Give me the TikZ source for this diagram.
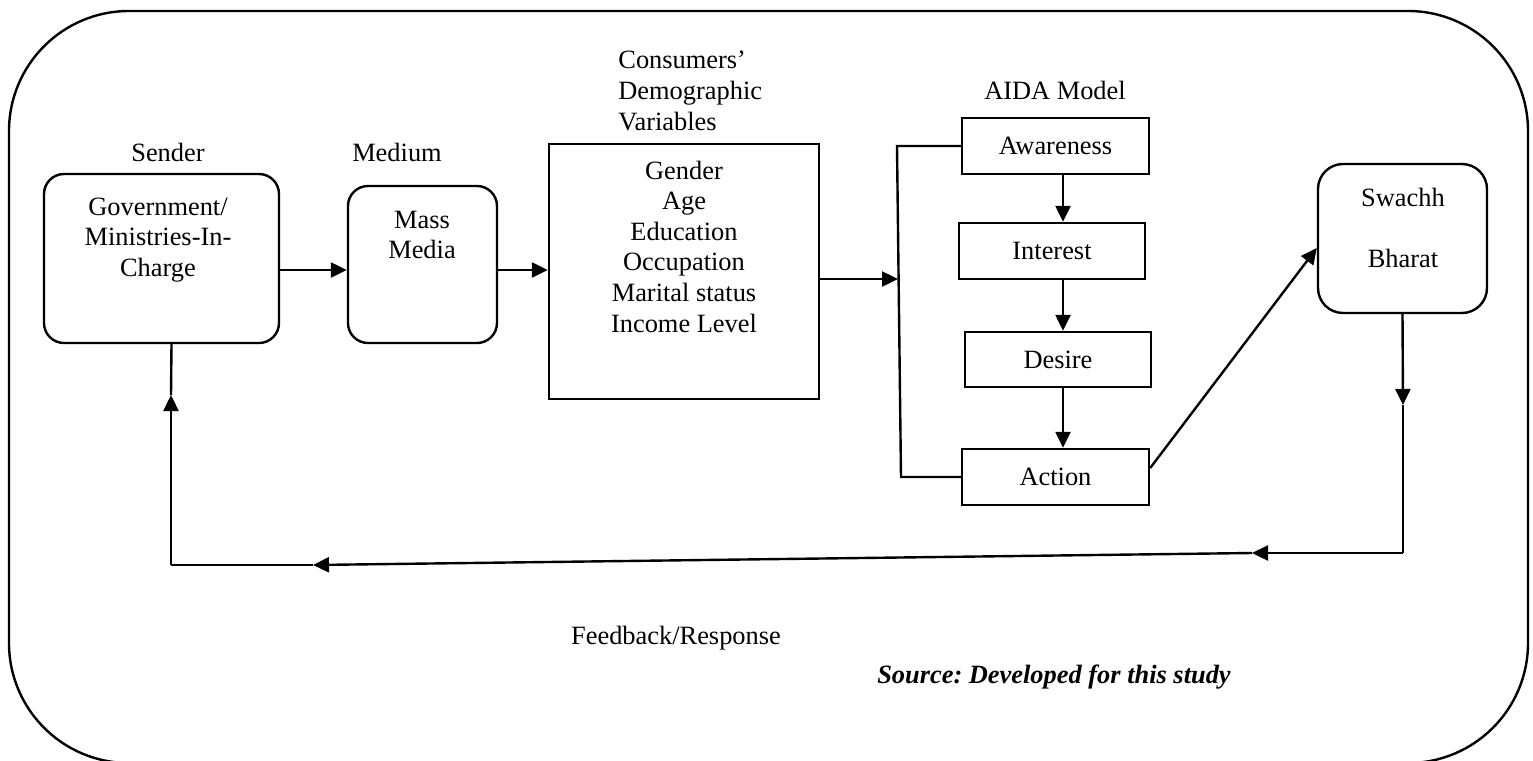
\documentclass[tikz,border=0pt]{standalone}
\usepackage{fontspec}
\setmainfont{Liberation Serif}
\usepackage{tikz}
\usetikzlibrary{arrows.meta}

\tikzset{
    txt/.style={font=\fontsize{13.2}{15.3}\selectfont, align=center, inner sep=0pt},
    rbox/.style={draw, line width=1.2pt, rounded corners=10pt, inner sep=0pt},
    sqbox/.style={draw, line width=1.2pt, inner sep=0pt},
    arr/.style={line width=1.2pt, -{Triangle[length=8pt,width=7.5pt]}},
    ln/.style={line width=1.2pt}
}

\begin{document}
\begin{tikzpicture}[x=0.5pt,y=-0.5pt]
        \useasboundingbox (0,0) rectangle (1533,761);
        \draw[line width=1.2pt, rounded corners=60pt] (9,11) rectangle (1528,763);

        % boxes
        \node[rbox, minimum width=117.5pt, minimum height=84.5pt] (sender) at (161.5,258.5) {};
        \node[rbox, minimum width=74.5pt, minimum height=78.5pt] (medium) at (422.5,264.5) {};
        \node[sqbox, minimum width=135pt, minimum height=127.5pt] (consumers) at (684,271.5) {};
        \node[sqbox, txt, minimum width=93.5pt, minimum height=28pt] (awareness) at (1055.5,146) {Awareness};
        \node[sqbox, txt, minimum width=93pt, minimum height=28pt] (interest) at (1052,251) {Interest};
        \node[sqbox, txt, minimum width=93pt, minimum height=27.5pt] (desire) at (1058,359.5) {Desire};
        \node[sqbox, txt, minimum width=93.5pt, minimum height=28pt] (action) at (1055.5,477) {Action};
        \node[rbox, rounded corners=12.5pt, minimum width=84.5pt, minimum height=74.5pt] (swachh) at (1402.5,238.5) {};

        % texts
        \node[txt] (senderlbl) at (168,152) {Sender};
        \node[txt] (sendertxt) at (158,240) {Government/\\Ministries-In-\\Charge};
        \node[txt] (mediumlbl) at (397,152) {Medium};
        \node[txt] (mediumtxt) at (422,235) {Mass\\Media};
        \node[txt, align=left, anchor=west] (consumerslbl) at (618,91) {Consumers'\\Demographic\\Variables};
        \node[txt] (consumerstxt) at (684,246.5) {Gender\\Age\\Education\\Occupation\\Marital status\\Income Level};
        \node[txt] (aidalbl) at (1055,90) {AIDA Model};
        \node[txt] (swachhtxt) at (1403,227.5) {Swachh\\[15.2pt]Bharat};
        \node[txt] (feedback) at (676,638) {Feedback/Response};
        \node[txt] (source) at (1054,677) {\textbf{\textit{Source:\ Developed for this study}}};

        \coordinate (ax) at (1063,0);
        \coordinate (brT) at (897,146);
        \coordinate (brB) at (901,477);
        \coordinate (brIn) at (898,279);
        \coordinate (sw) at (1403,405);
        \coordinate (fbR) at (1403,553);
        \coordinate (fbM) at (1252,553);
        \coordinate (fbL) at (313,565);
        \coordinate (fbC) at (171,565);
        \coordinate (fbU) at (171,395);

        % arrows
        \draw[arr] (sender.east |- 0,270) -- (medium.west |- 0,270);
        \draw[arr] (medium.east |- 0,270) -- (consumers.west |- 0,270);
        \draw[arr] (consumers.east |- brIn) -- (brIn);
        \draw[ln] (awareness.west) -- (brT) -- (brB) -- (action.west);

        \draw[arr] (ax |- awareness.south) -- (ax |- interest.north);
        \draw[arr] (ax |- interest.south) -- (ax |- desire.north);
        \draw[arr] (ax |- desire.south) -- (ax |- action.north);

        \draw[arr] ([yshift=4.5pt]action.east) -- ([yshift=-4.75pt]swachh.west);
        \draw[arr] (swachh.south) -- (sw);
        \draw[ln] (sw) -- (fbR);
        \draw[arr] (fbR) -- (fbM);
        \draw[arr] (fbM) -- (fbL);
        \draw[ln] (fbL) -- (fbC);
        \draw[arr] (fbC) -- (fbU);
        \draw[ln] (fbU) -- ([xshift=5pt]sender.south);
    \end{tikzpicture}
\end{document}
